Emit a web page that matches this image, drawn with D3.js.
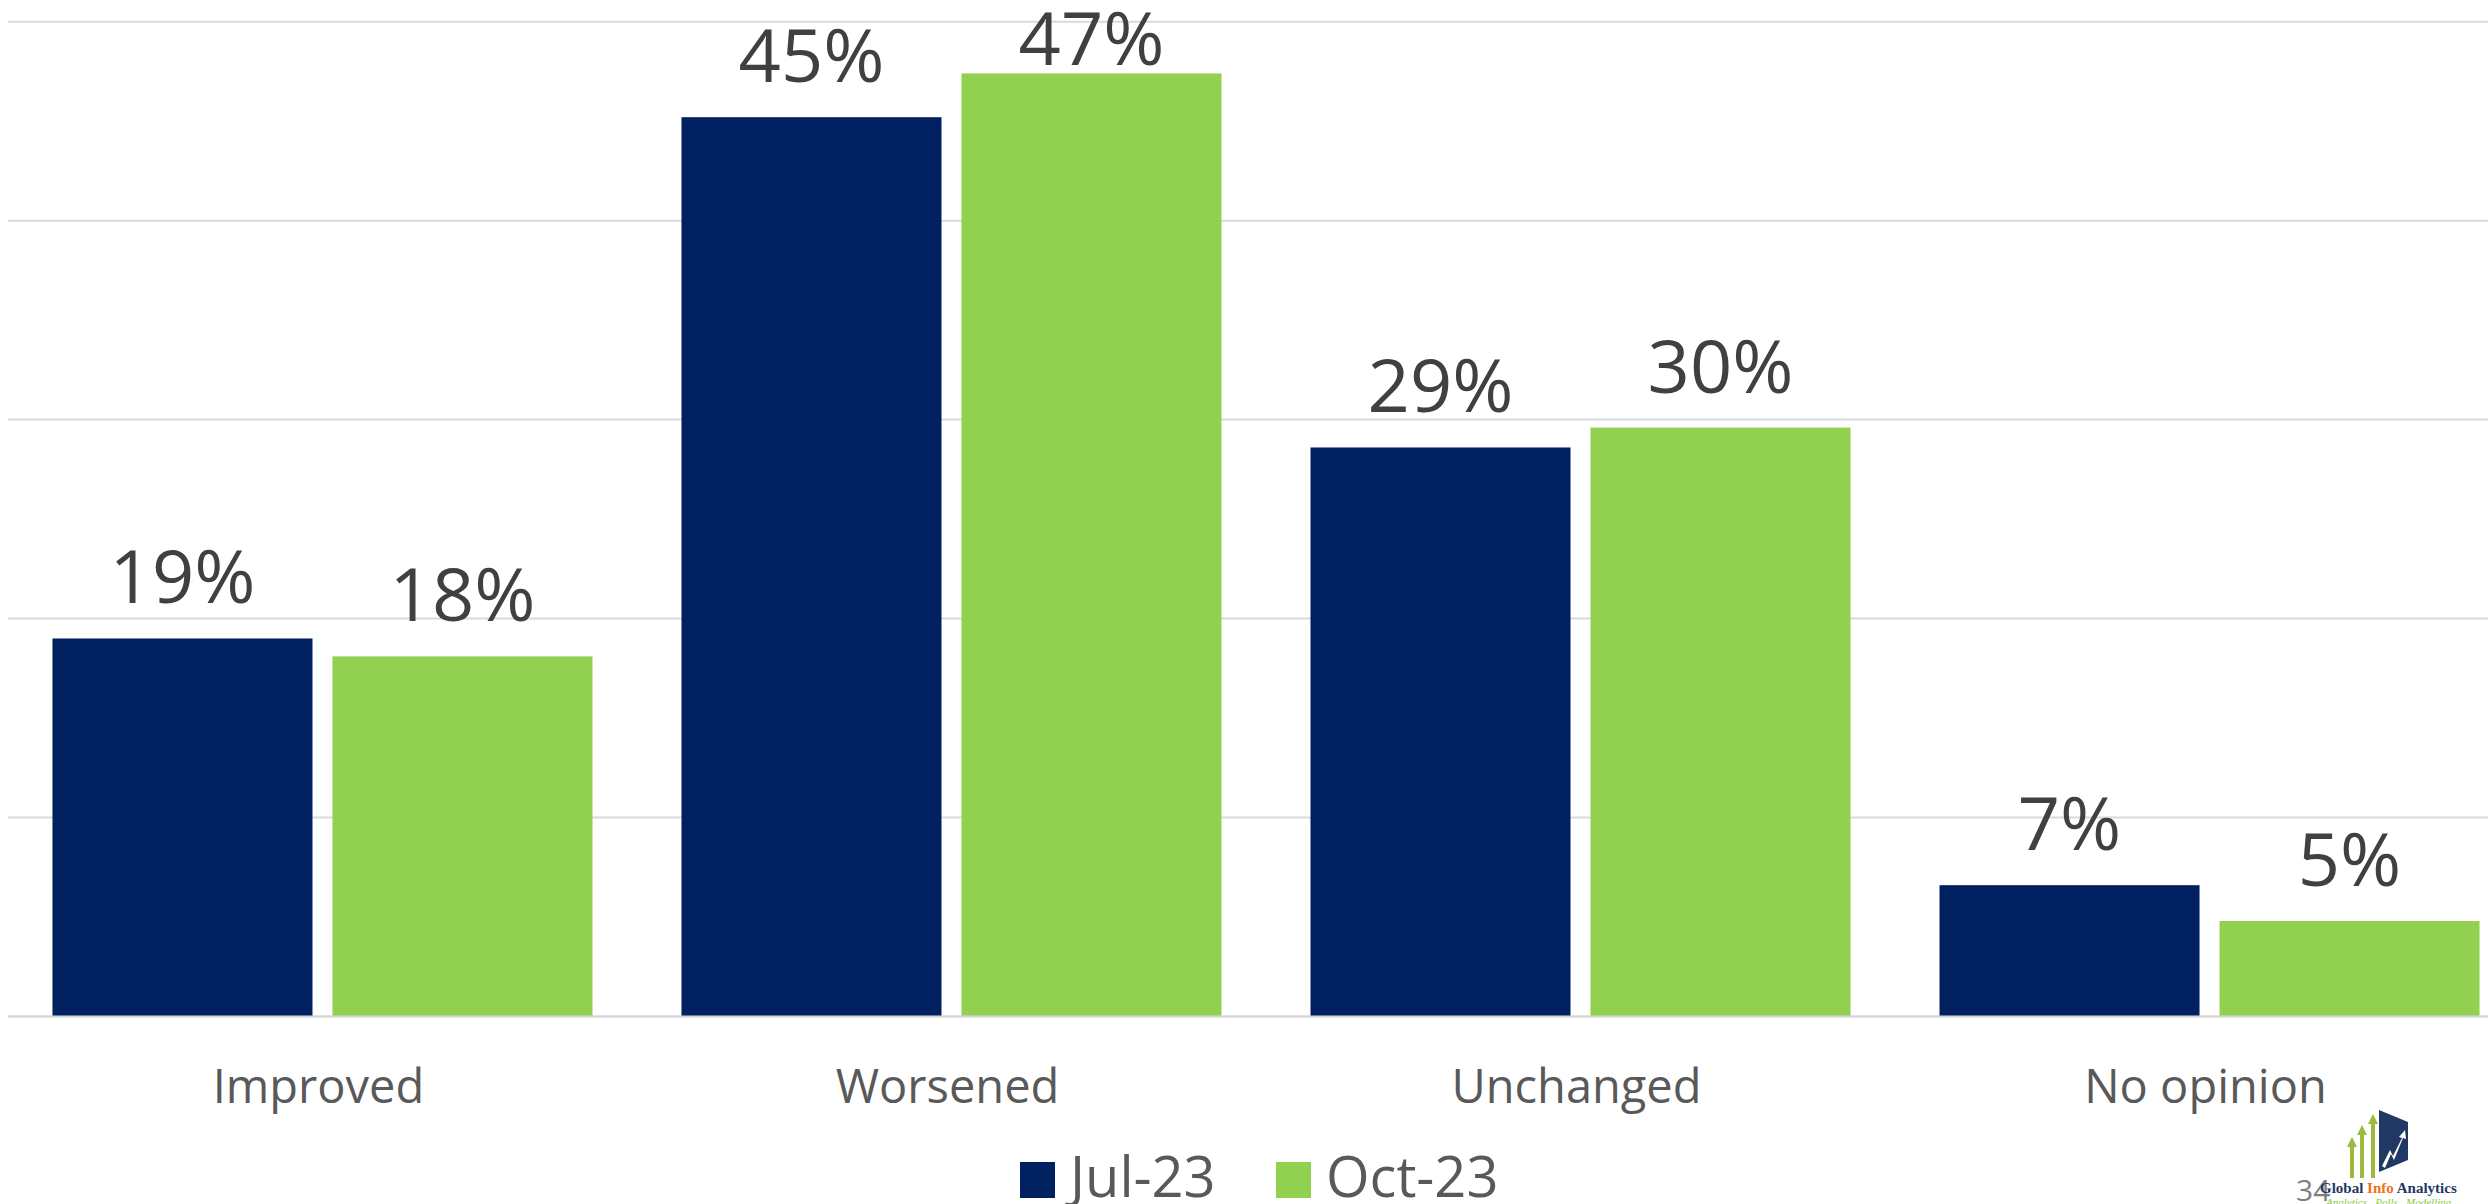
<!DOCTYPE html>
<html><head><meta charset="utf-8">
<script src="https://cdn.jsdelivr.net/npm/d3@7"></script>
<style>
html,body{margin:0;padding:0;background:#fff;overflow:hidden;}
svg{display:block;}
</style></head>
<body>
<svg id="chart" width="2488" height="1204"></svg>
<script>
const categories = ["Improved", "Worsened", "Unchanged", "No opinion"];
const seriesNames = ["Jul-23", "Oct-23"];
const jul23 = [19.0, 45.2, 28.6, 6.6];
const oct23 = [18.1, 47.4, 29.6, 4.8];
const gridTicks = [0, 10, 20, 30, 40, 50];
const colors = ["#002060", "#92D050"];

const svg = d3.select("#chart");
const W = 2488, H = 1204;
const font = "'Open Sans', sans-serif";

const y = d3.scaleLinear().domain([0, 50]).range([1016.5, 21.7]);
const x0 = d3.scaleBand().domain(categories).range([8, 2524]).paddingInner(0.1415).paddingOuter(0.0707);
const x1 = d3.scaleBand().domain(seriesNames).range([0, x0.bandwidth()]).paddingInner(0.0714).paddingOuter(0);
const color = d3.scaleOrdinal().domain(seriesNames).range(colors);

// gridlines
svg.append("g").selectAll("line").data(gridTicks).join("line")
  .attr("x1", 8).attr("x2", W)
  .attr("y1", d => y(d)).attr("y2", d => y(d))
  .attr("stroke", "#d9d9d9").attr("stroke-width", 2);

const rows = categories.map((c, i) => ({cat: c, vals: [
  {s: seriesNames[0], v: jul23[i]}, {s: seriesNames[1], v: oct23[i]}]}));

const groups = svg.append("g").selectAll("g").data(rows).join("g")
  .attr("transform", d => `translate(${x0(d.cat)},0)`);

groups.selectAll("rect").data(d => d.vals).join("rect")
  .attr("x", d => x1(d.s)).attr("width", x1.bandwidth())
  .attr("y", d => y(d.v)).attr("height", d => y(0) - y(d.v))
  .attr("fill", d => color(d.s));

groups.selectAll("text.val").data(d => d.vals).join("text")
  .attr("class", "val")
  .attr("x", d => x1(d.s) + x1.bandwidth() / 2)
  .attr("y", d => Math.max(y(d.v) - 35, 65))
  .attr("text-anchor", "middle")
  .attr("font-family", font).attr("font-size", 74)
  .attr("fill", "#404040")
  .text(d => Math.round(d.v) + "%");

// baseline
svg.append("line").attr("x1", 8).attr("x2", W).attr("y1", y(0)).attr("y2", y(0))
  .attr("stroke", "#d9d9d9").attr("stroke-width", 2);

// category axis labels
svg.append("g").selectAll("text").data(categories).join("text")
  .attr("x", d => x0(d) + x0.bandwidth() / 2 - 4)
  .attr("y", 1103)
  .attr("text-anchor", "middle")
  .attr("font-family", font).attr("font-size", 47)
  .attr("fill", "#595959")
  .text(d => d);

// legend
const legendX = [1020, 1276];
const lg = svg.append("g").selectAll("g").data(seriesNames).join("g")
  .attr("transform", (d, i) => `translate(${legendX[i]},1162)`);
lg.append("rect").attr("width", 35).attr("height", 36).attr("fill", d => color(d));
lg.append("text").attr("x", 50).attr("y", 35)
  .attr("font-family", font).attr("font-size", 56).attr("fill", "#595959")
  .text(d => d);

// logo + page number
const logo = svg.append("g");
logo.append("path").attr("d", "M2379,1110 L2408,1122 L2408,1160 L2379,1172 Z").attr("fill", "#1f3864");
logo.append("path").attr("d", "M2382,1166 L2390,1150 L2393,1156 L2402,1138 L2399,1137 L2405,1130 L2406,1139 L2403,1138 L2394,1160 L2391,1154 L2385,1168 Z").attr("fill", "#fff");
[[2352, 1137], [2362, 1125], [2373, 1114]].forEach(([ax, ay]) => {
  logo.append("path").attr("d", `M${ax},${ay} L${ax+5},${ay+10} L${ax+2},${ay+10} L${ax+2},1178 L${ax-2},1178 L${ax-2},${ay+10} L${ax-5},${ay+10} Z`).attr("fill", "#9bbb3b");
});
svg.append("text").attr("x", 2296).attr("y", 1201).attr("font-family", font).attr("font-size", 30).attr("fill", "#7f7f7f").text("34");
const lt = svg.append("text").attr("x", 2320).attr("y", 1193).attr("font-family", "'Liberation Serif', serif").attr("font-weight", "bold").attr("font-size", 15).attr("fill", "#1f3864");
lt.append("tspan").text("Global ");
lt.append("tspan").attr("fill", "#f07020").text("Info");
lt.append("tspan").text(" Analytics");
svg.append("text").attr("x", 2326).attr("y", 1206).attr("font-family", "'Liberation Serif', serif").attr("font-style", "italic").attr("font-size", 11).attr("fill", "#8cc63f").text("Analytics . Polls . Modelling");
</script>
</body></html>
